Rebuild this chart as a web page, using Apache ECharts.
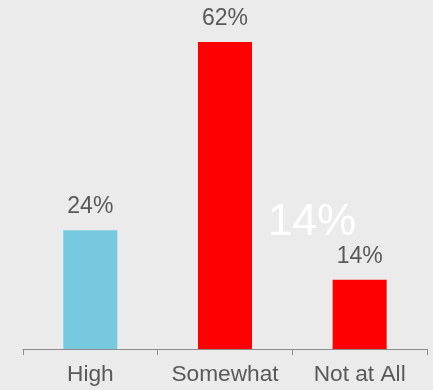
<!DOCTYPE html>
<html><head><meta charset="utf-8">
<script src="https://cdn.jsdelivr.net/npm/echarts@6/dist/echarts.min.js"></script>
<style>html,body{margin:0;padding:0;background:#ebebeb}#c{width:433px;height:390px}</style>
</head><body><div id="c"></div>
<script>
const categories = ["High", "Somewhat", "Not at All"];
const values = [24, 62, 14];
const barColors = ["#77c9e0", "#ff0000", "#ff0000"];
const overlayText = "14%";

const chart = echarts.init(document.getElementById('c'), null, {renderer: 'canvas'});
chart.setOption({
  backgroundColor: '#ebebeb',
  animation: false,
  title: {
    text: overlayText,
    left: 263, top: 196,
    textStyle: {color: '#ffffff', fontSize: 44, fontWeight: 'normal', fontFamily: 'Liberation Sans, Arial, sans-serif'}
  },
  grid: {left: 23, right: 6, top: 2.5, bottom: 41},
  xAxis: {
    type: 'category',
    data: categories,
    axisLine: {lineStyle: {color: '#8c8c8c', width: 1}},
    axisTick: {show: true, length: 6, interval: 0, lineStyle: {color: '#8c8c8c'}},
    axisLabel: {color: '#595959', fontSize: 22.7, margin: 14, interval: 0, hideOverlap: false, fontFamily: 'Liberation Sans, Arial, sans-serif'}
  },
  yAxis: {type: 'value', min: 0, max: 70, show: false, splitLine: {show: false}},
  series: [{
    type: 'bar',
    barWidth: 54,
    data: values.map((v, i) => ({value: v, itemStyle: {color: barColors[i]}})),
    label: {
      show: true, position: 'top', distance: 12,
      formatter: p => p.value + '%',
      color: '#595959', fontSize: 23, fontFamily: 'Liberation Sans, Arial, sans-serif'
    }
  }]
});
</script></body></html>
